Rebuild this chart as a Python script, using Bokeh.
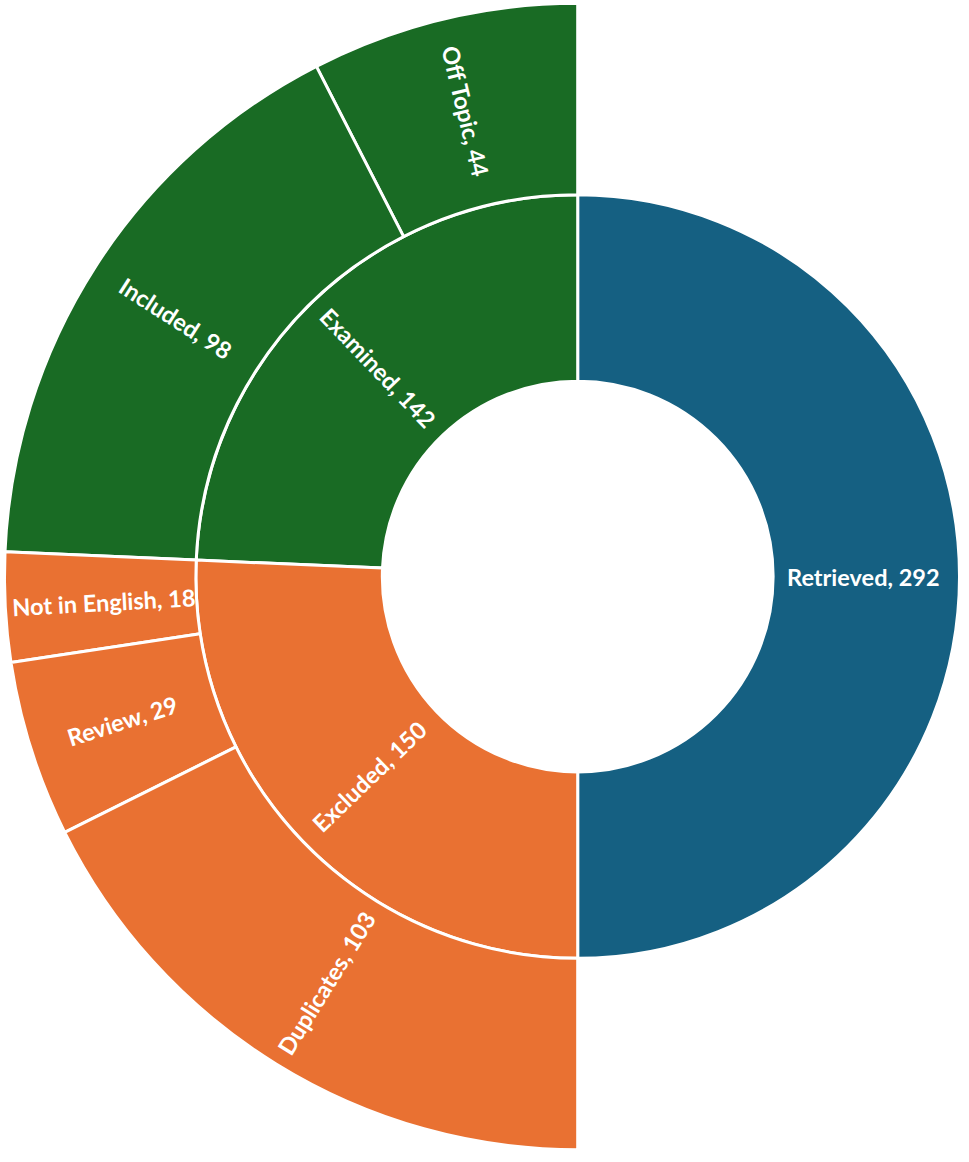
import numpy as np
from bokeh.plotting import figure
from bokeh.models import ColumnDataSource
from bokeh.core.properties import value
from bokeh.embed import file_html
from bokeh.resources import INLINE

# ---- data ----
inner_labels = ["Retrieved", "Examined", "Excluded"]
inner_values = [292, 142, 150]
inner_colors = ["#156082", "#196B24", "#E97132"]

outer_labels = ["Off Topic", "Included", "Not in English", "Review", "Duplicates"]
outer_values = [44, 98, 18, 29, 103]
outer_colors = ["#196B24", "#196B24", "#E97132", "#E97132", "#E97132"]

# ---- geometry (ref pixel space, y up) ----
W, H = 969, 1162
cx, cy = 582, H - 580
r0, r1, r2 = 197, 385, 578
total = sum(inner_values[1:]) + inner_values[0]  # full circle total

def angles(values, start):
    vals = np.array(values, dtype=float)
    spans = vals / total * 2 * np.pi
    starts = start + np.concatenate([[0], np.cumsum(spans)[:-1]])
    return starts, starts + spans

# Retrieved on the right half: from -90deg to +90deg
ret_span = inner_values[0] / total * 2 * np.pi
ret_start = np.pi / 2 - ret_span
ex_s, ex_e = angles(inner_values[1:], np.pi / 2)
in_s = np.concatenate([[ret_start], ex_s])
in_e = np.concatenate([[np.pi / 2], ex_e])
out_s, out_e = angles(outer_values, np.pi / 2)

p = figure(width=961, height=1154, x_range=(0, W), y_range=(0, H),
           output_backend="svg", toolbar_location=None, min_border=0)
p.axis.visible = False
p.grid.visible = False
p.outline_line_color = None
p.background_fill_color = "white"

src_in = ColumnDataSource(dict(start=in_s, end=in_e, color=inner_colors))
src_out = ColumnDataSource(dict(start=out_s, end=out_e, color=outer_colors))

p.annular_wedge(x=cx, y=cy, inner_radius=r0, outer_radius=r1,
                start_angle="start", end_angle="end", fill_color="color",
                line_color="white", line_width=3, source=src_in)
p.annular_wedge(x=cx, y=cy, inner_radius=r1, outer_radius=r2,
                start_angle="start", end_angle="end", fill_color="color",
                line_color="white", line_width=3, source=src_out)

def label_data(labels, vals, s, e, rmid):
    mids = (np.array(s) + np.array(e)) / 2
    xs = cx + rmid * np.cos(mids)
    ys = cy + rmid * np.sin(mids)
    txt = [f"{l}, {v}" for l, v in zip(labels, vals)]
    ang = []
    for m in mids:
        a = m
        # keep text readable
        while a > np.pi / 2:
            a -= np.pi
        while a < -np.pi / 2:
            a += np.pi
        ang.append(a)
    return dict(x=xs, y=ys, text=txt, angle=ang)

d_in = label_data(inner_labels, inner_values, in_s, in_e, (r0 + r1) / 2)
d_in["x"][0] = d_in["x"][0] - 3
d_out = label_data(outer_labels, outer_values, out_s, out_e, (r1 + r2) / 2)
d_out["x"][2] = d_out["x"][2] + 3

for d in (d_in, d_out):
    p.text(x="x", y="y", text="text", angle="angle", source=ColumnDataSource(d),
           text_color="white", text_font=value("Lato"), text_font_style="bold",
           text_font_size="23.5px", text_align="center", text_baseline="middle")

open("out.html", "w").write(file_html(p, INLINE))
